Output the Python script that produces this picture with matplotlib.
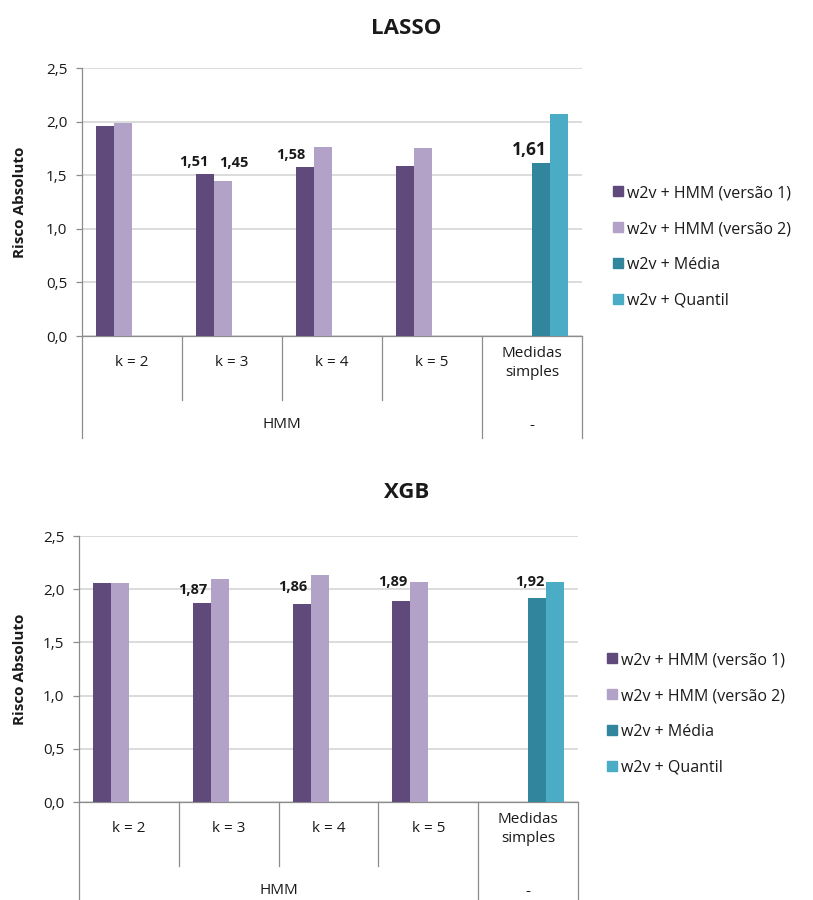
import numpy as np
import matplotlib

matplotlib.use("Agg")
import matplotlib.pyplot as plt
from matplotlib.transforms import blended_transform_factory
from matplotlib.patches import Patch

plt.rcParams["font.family"] = ["Open Sans", "DejaVu Sans"]

# ---------------------------------------------------------------------------
# Data
# ---------------------------------------------------------------------------
categories = ["k = 2", "k = 3", "k = 4", "k = 5", "Medidas\nsimples"]
groups = ["HMM", "-"]
series_names = [
    "w2v + HMM (versão 1)",
    "w2v + HMM (versão 2)",
    "w2v + Média",
    "w2v + Quantil",
]

# LASSO (None = no bar in that category)
lasso_v1 = [1.96, 1.51, 1.58, 1.59, None]
lasso_v2 = [1.99, 1.45, 1.76, 1.75, None]
lasso_media = [None, None, None, None, 1.61]
lasso_quantil = [None, None, None, None, 2.07]

# XGB
xgb_v1 = [2.06, 1.87, 1.86, 1.89, None]
xgb_v2 = [2.06, 2.10, 2.13, 2.07, None]
xgb_media = [None, None, None, None, 1.92]
xgb_quantil = [None, None, None, None, 2.07]

COLORS = ["#604a7b", "#b3a2c7", "#31859c", "#4bacc6"]
GRID = "#d9d9d9"
AXIS = "#8c8c8c"
TXT = "#1a1a1a"

W, H = 813, 900
BAR_W = 0.18


def fx(px):
    return px / W


def fy(py):
    return 1 - py / H


def draw_chart(fig, title, series, box, title_y, legend_xy, labels):
    left, top, right, bottom = box
    ax = fig.add_axes([fx(left), fy(bottom), fx(right - left), (bottom - top) / H])
    h_px = bottom - top
    x = np.arange(len(categories))

    for i, vals in enumerate(series):
        for j, v in enumerate(vals):
            if v is None:
                continue
            ax.bar(x[j] + (i - 1.5) * BAR_W, v, width=BAR_W, color=COLORS[i],
                   zorder=3, linewidth=0)

    # value labels sitting over selected bars
    for s, c, dx, dy, size in labels:
        v = series[s][c]
        ax.annotate(f"{v:.2f}".replace(".", ","),
                    xy=(x[c] + (s - 1.5) * BAR_W, v),
                    xytext=(dx * 0.72, dy * 0.72), textcoords="offset points",
                    ha="center", va="bottom", fontsize=size,
                    fontweight="bold", color=TXT, zorder=5)

    ax.set_xlim(-0.5, len(categories) - 0.5)
    ax.set_ylim(0, 2.5)
    ticks = np.arange(0, 2.51, 0.5)
    ax.set_yticks(ticks)
    ax.set_yticklabels([f"{t:.1f}".replace(".", ",") for t in ticks],
                       fontsize=11, color=TXT)
    ax.yaxis.grid(True, color=GRID, linewidth=1.3, zorder=0)
    ax.set_axisbelow(True)
    ax.tick_params(axis="y", length=4.5, color=AXIS, width=0.9, pad=6)
    ax.set_xticks([])
    for sp in ("top", "right"):
        ax.spines[sp].set_visible(False)
    for sp in ("left", "bottom"):
        ax.spines[sp].set_color(AXIS)
        ax.spines[sp].set_linewidth(0.9)

    # multi-level category axis below the plot
    tr = blended_transform_factory(ax.transData, ax.transAxes)
    inner = -64 / h_px
    outer = -(H - bottom + 2) / h_px if H - bottom < 100 else -102 / h_px
    edges = np.arange(len(categories) + 1) - 0.5
    for k, e in enumerate(edges):
        low = outer if k in (0, len(categories) - 1, len(categories)) else inner
        ax.plot([e, e], [0, low], transform=tr, color=AXIS, lw=0.9,
                clip_on=False)
    for j, cat in enumerate(categories):
        ax.text(x[j], -27 / h_px, cat, transform=tr, ha="center", va="center",
                fontsize=11, color=TXT, linespacing=1.35)
    ax.text(1.5, -89 / h_px, groups[0], transform=tr, ha="center",
            va="center", fontsize=11, color=TXT)
    ax.text(4, -89 / h_px, groups[1], transform=tr, ha="center",
            va="center", fontsize=11, color=TXT)

    fig.text(0.5, fy(title_y), title, ha="center", va="center",
             fontsize=16, fontweight="bold", color=TXT)
    fig.text(fx(20), fy((top + bottom) / 2), "Risco Absoluto", rotation=90,
             ha="center", va="center", fontsize=11, fontweight="bold",
             color=TXT)

    handles = [Patch(color=c) for c in COLORS]
    fig.legend(handles, series_names, loc="center left",
               bbox_to_anchor=(fx(legend_xy[0]), fy(legend_xy[1])),
               frameon=False, fontsize=11.5, handlelength=0.6,
               handleheight=0.6, handletextpad=0.3, labelspacing=1.25,
               borderpad=0, borderaxespad=0, labelcolor=TXT)
    return ax


fig = plt.figure(figsize=(W / 100, H / 100), dpi=100)
fig.patch.set_facecolor("white")

draw_chart(
    fig, "LASSO",
    [lasso_v1, lasso_v2, lasso_media, lasso_quantil],
    (82, 68, 582, 336), 28, (613, 247),
    [(0, 1, -11, 5, 10.5), (1, 1, 11, 11, 10.5), (0, 2, -14, 5, 10.5),
     (2, 4, -12, 4, 12.5)],
)
draw_chart(
    fig, "XGB",
    [xgb_v1, xgb_v2, xgb_media, xgb_quantil],
    (79, 536, 578, 802), 493, (607, 714),
    [(0, 1, -9, 6, 10.5), (0, 2, -9, 10, 10.5), (0, 3, -9, 12, 10.5),
     (2, 4, -7, 9, 10.5)],
)

fig.savefig("out.png", dpi=100)
